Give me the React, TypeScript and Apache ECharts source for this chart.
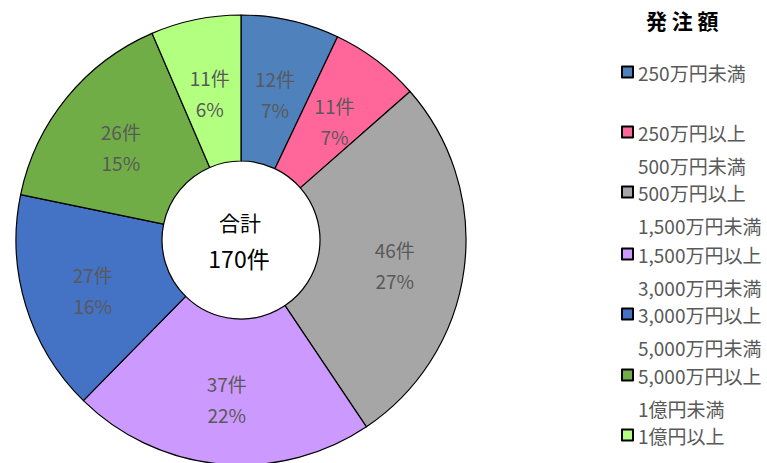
import React, { useEffect, useRef } from "react";
import * as echarts from "echarts";

const categories = [
  "250万円未満",
  "250万円以上",
  "500万円以上",
  "1,500万円以上",
  "3,000万円以上",
  "5,000万円以上",
  "1億円以上",
];
const upperBounds = ["", "500万円未満", "1,500万円未満", "3,000万円未満", "5,000万円未満", "1億円未満", ""];
const counts = [12, 11, 46, 37, 27, 26, 11];
const percentLabels = ["7%", "7%", "27%", "22%", "16%", "15%", "6%"];
const colors = ["#4f81bd", "#ff6699", "#a6a6a6", "#cc99ff", "#4472c4", "#70ad47", "#b3ff80"];
const totalLabel = "合計";
const totalValue = "170件";
const legendTitle = "発 注 額";

// layout constants
const legendLineY = [79, 139, 199, 261, 321, 382, 442];
const LH = 33;
const FONT = '"Noto Sans CJK JP", "Noto Sans", sans-serif';

export default function App() {
  const ref = useRef<HTMLDivElement>(null);
  useEffect(() => {
    if (!ref.current) return;
    const chart = echarts.init(ref.current, null, { renderer: "svg" });
    const legends = categories.map((name, i) => {
      const two = upperBounds[i] !== "";
      const blockH = two ? LH * 3 : LH;
      return {
        data: [name],
        left: 621,
        top: legendLineY[i] - blockH / 2,
        padding: 0,
        orient: "vertical",
        itemWidth: 11,
        itemHeight: 11,
        selectedMode: false,
        icon: "rect",
        formatter: (n: string) => {
          const idx = categories.indexOf(n);
          return upperBounds[idx] ? `{s| }\n{a|${n}}\n{a|${upperBounds[idx]}}` : `{a|${n}}`;
        },
        textStyle: {
          rich: {
            s: { lineHeight: LH, fontSize: 19, fontFamily: FONT },
            a: { lineHeight: LH, fontSize: 19, color: "#595959", fontFamily: FONT },
          },
        },
      };
    });
    chart.setOption({
      animation: false,
      textStyle: { fontFamily: FONT },
      title: {
        text: legendTitle,
        left: 641,
        top: 4,
        textStyle: { fontSize: 21, fontWeight: "bold", color: "#000", fontFamily: FONT },
      },
      legend: legends,
      graphic: [
        {
          type: "text",
          x: 240,
          y: 222,
          style: {
            text: totalLabel,
            fill: "#000",
            font: `21px ${FONT}`,
            align: "center",
            verticalAlign: "middle",
          },
        },
        {
          type: "text",
          x: 239,
          y: 258,
          style: {
            text: totalValue,
            fill: "#000",
            font: `23px ${FONT}`,
            align: "center",
            verticalAlign: "middle",
          },
        },
      ],
      series: [
        {
          type: "pie",
          center: [241, 240],
          radius: [79, 225],
          startAngle: 90,
          clockwise: true,
          silent: true,
          emphasis: { disabled: true },
          itemStyle: { borderColor: "#000", borderWidth: 1.2 },
          label: {
            position: "inside",
            formatter: (p: any) =>
              `{s| }\n{c|${counts[p.dataIndex]}件}\n{c|${percentLabels[p.dataIndex]}}`,
            rich: {
              s: { fontSize: 1, lineHeight: 10 },
              c: { color: "#595959", fontSize: 19, lineHeight: 31, fontFamily: FONT },
            },
          },
          labelLine: { show: false },
          data: categories.map((name, i) => ({
            name,
            value: counts[i],
            itemStyle: { color: colors[i] },
          })),
        },
      ],
    });
    return () => chart.dispose();
  }, []);
  return (
    <div
      ref={ref}
      style={{ position: "fixed", left: 0, top: 0, width: 767, height: 463, background: "#fff" }}
    />
  );
}
